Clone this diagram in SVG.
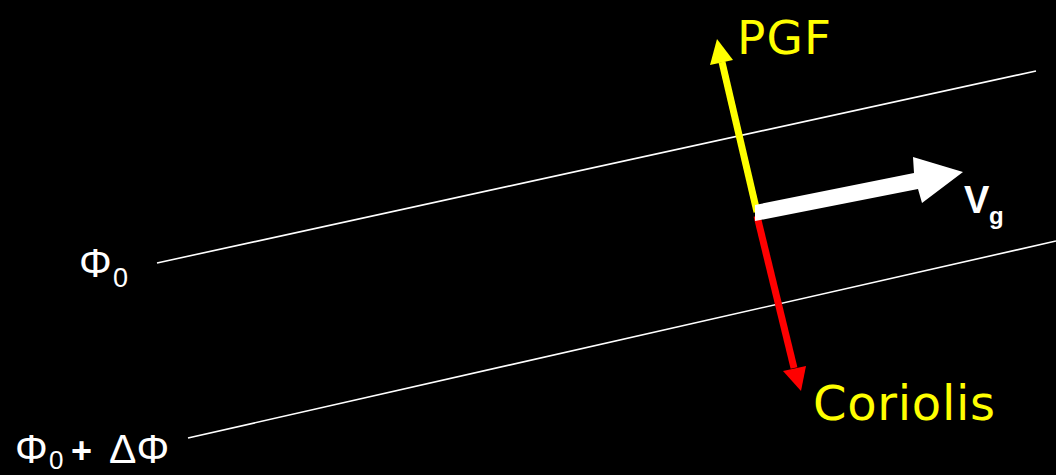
<svg xmlns="http://www.w3.org/2000/svg" width="1056" height="475" viewBox="0 0 1056 475">
<style>
.iso{stroke:#fff;stroke-width:1.6;fill:none}
.lbl{font-family:"Liberation Sans",Arial,sans-serif;fill:#fff}
.hand{font-family:"Comic Sans MS","DejaVu Sans",sans-serif;fill:#ffff00}
</style>
<rect width="1056" height="475" fill="#000"/>
<g id="connectors">
<line class="iso" x1="157" y1="263" x2="1036" y2="71"/>
<line class="iso" x1="188" y1="438" x2="1056" y2="241"/>
</g>
<g id="pgf">
<line x1="757" y1="212" x2="722" y2="62" stroke="#ffff00" stroke-width="7"/>
<polygon points="717,39 733,60 710,65" fill="#ffff00"/>
<text class="hand" x="737" y="54" font-size="47" textLength="94">PGF</text>
</g>
<g id="coriolis">
<line x1="757" y1="216" x2="794" y2="368" stroke="#ff0000" stroke-width="7"/>
<polygon points="801,391 783,371 806,366" fill="#ff0000"/>
<text class="hand" x="813" y="420" font-size="48" textLength="182">Coriolis</text>
</g>
<g id="vg">
<polygon points="755,205 914,173 913,157 963,172 922,203 918,189 755,221" fill="#fff"/>
<text class="lbl" x="964" y="213" font-size="38" font-weight="bold">V</text>
<text class="lbl" x="989" y="224" font-size="24" font-weight="bold">g</text>
</g>
<g id="phi0">
<text class="lbl" x="79" y="277" font-size="41">Φ</text>
<text class="lbl" x="113" y="287" font-size="27">0</text>
</g>
<g id="phi0dphi">
<text class="lbl" x="15" y="463" font-size="41">Φ</text>
<text class="lbl" x="49" y="469" font-size="26">0</text>
<text class="lbl" x="71" y="463" font-size="36" font-weight="bold">+</text>
<text class="lbl" x="109" y="463" font-size="41">ΔΦ</text>
</g>
</svg>
